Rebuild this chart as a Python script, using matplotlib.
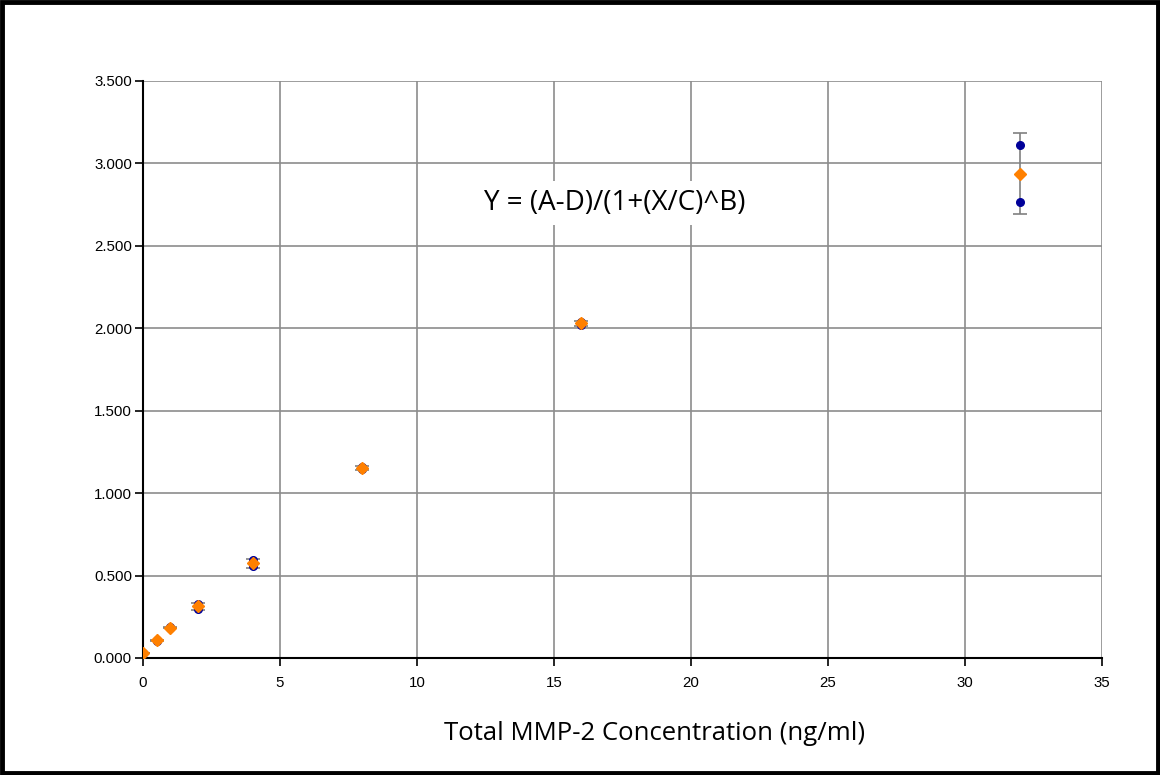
import numpy as np
import matplotlib.pyplot as plt
from matplotlib.patches import Rectangle

# standard concentrations (ng/ml) and duplicate readings
conc = [0, 0.5, 1, 2, 4, 8, 16, 32]
rep1 = [0.030, 0.105, 0.185, 0.330, 0.595, 1.160, 2.040, 3.112]
rep2 = [0.032, 0.108, 0.180, 0.300, 0.555, 1.145, 2.020, 2.765]

x_ticks = [0, 5, 10, 15, 20, 25, 30, 35]
y_ticks = [0.0, 0.5, 1.0, 1.5, 2.0, 2.5, 3.0, 3.5]

reps = np.array([rep1, rep2])
mean = reps.mean(axis=0)
sd = reps.std(axis=0, ddof=1)

fig = plt.figure(figsize=(11.6, 7.75), dpi=100)
ax = fig.add_axes([0.1233, 0.151, 0.8267, 0.7445])

ax.set_axisbelow(True)
ax.grid(True, color='#8c8c8c', linewidth=1.2)

ax.errorbar(conc, mean, yerr=sd, fmt='none', ecolor='#808080',
            elinewidth=1.2, capsize=5, capthick=1.2, zorder=2)
for r in (rep1, rep2):
    ax.plot(conc, r, 'o', color='#000099', markersize=5.5, zorder=3)
ax.plot(conc, mean, 'D', color='#ff8000', markersize=6.5, zorder=4)

ax.set_xlim(0, 35)
ax.set_ylim(0, 3.5)
ax.set_xticks(x_ticks)
ax.set_yticks(y_ticks)
ax.set_xticklabels([str(t) for t in x_ticks], fontsize=10.8, family='Liberation Sans')
ax.set_yticklabels(['%.3f' % t for t in y_ticks], fontsize=10.8, family='Liberation Sans')
ax.tick_params(direction='out', length=6, width=1.2, color='black', pad=2)
ax.tick_params(axis='x', pad=7)
for s in ('top', 'right'):
    ax.spines[s].set_visible(False)
for s in ('left', 'bottom'):
    ax.spines[s].set_linewidth(1.5)

fig.text(655 / 1160, 1 - 733 / 775, 'Total MMP-2 Concentration (ng/ml)',
         fontsize=18.5, family='Open Sans', ha='center', va='center')

ax.text(17.2, 2.76, 'Y = (A-D)/(1+(X/C)^B)',
        ha='center', va='center', fontsize=20, family='Open Sans',
        bbox=dict(facecolor='white', edgecolor='none', pad=6))

# black frame around the whole picture
fig.patches.append(Rectangle((0.0015, 0.002), 0.997, 0.996, transform=fig.transFigure,
                             fill=False, edgecolor='black', linewidth=3.5))

fig.savefig('out.png', dpi=100)
